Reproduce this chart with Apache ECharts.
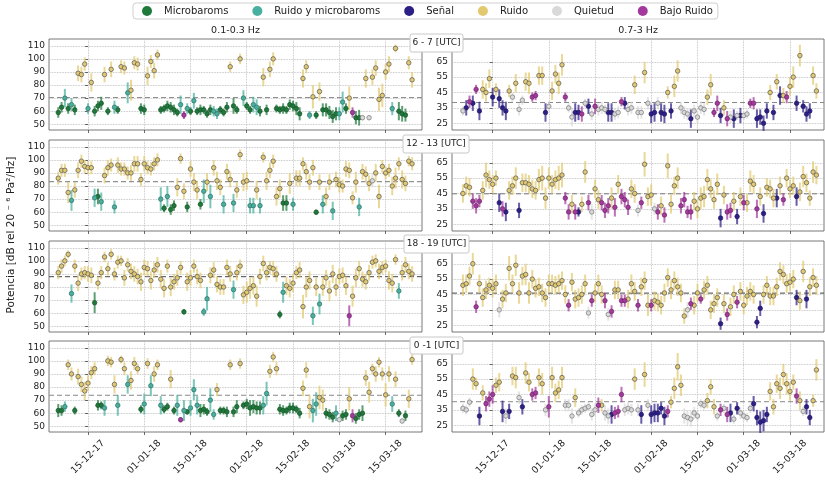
<!DOCTYPE html>
<html><head><meta charset="utf-8">
<script src="https://cdn.jsdelivr.net/npm/echarts@6/dist/echarts.min.js"></script>
<style>html,body{margin:0;padding:0;background:#fff}#c{width:825px;height:481px}</style>
</head><body><div id="c"></div>
<script>
// ---------------- DATA ----------------
// x in days relative to 15-12-2017; each panel has one estimate per day starting at day -9
const startDay = -9;
const tickDays = [0, 17, 31, 48, 62, 76, 90];
const tickLabels = ['15-12-17', '01-01-18', '15-01-18', '01-02-18', '15-02-18', '01-03-18', '15-03-18'];
const leftTicks = [50, 60, 70, 80, 90, 100, 110];
const rightTicks = [25, 35, 45, 55, 65];
const rowLabels = ['6 - 7 [UTC]', '12 - 13 [UTC]', '18 - 19 [UTC]', '0 -1 [UTC]'];
const bandTitles = ['0.1-0.3 Hz', '0.7-3 Hz'];
// category codes: g Microbaroms, t Ruido y microbaroms, s Señal, y Ruido, q Quietud, b Bajo Ruido
const catCodes = ['g', 't', 's', 'y', 'q', 'b'];
const catNames = ['Microbaroms', 'Ruido y microbaroms', 'Señal', 'Ruido', 'Quietud', 'Bajo Ruido'];

// ---- 0.1-0.3 Hz ----
const L1_cats = ["ggtgtgyyyt","ygggygytgy","ytyyyggyyy","yggggggtbt","gtgggggttg","ggyggytggt","tgygyygggg","ggggyytygy","gggggttgyb","ggqyqyyyyy","ytygggyy"].join('');
const L1_vals = [59,63,70,62,65,61,89,88,96,62, 82,60,64,66,88,60,92,63,61,94, 93,74,76,97,96,62,61,87,98,91,
 103,61,62,64,63,61,59,65,57,62, 60,68,60,61,61,58,61,60,58,61, 59,63,94,64,61,100,70,64,61,65,
 63,60,86,61,92,100,62,61,62,61, 65,64,62,58,85,94,57,71,57,75, 61,61,59,56,58,58,67,62,70,59,
 55,55,55,85,55,86,93,69,72,90, 96,62,108,60,58,57,97,84];
const L1_errs = ["4474546654","7445636535","5885544756","4334443734","3634334443","3446346336","6474653343","4455753937","5555558494","5627266996","65376556"].join('');
const L1_mean = 70.4;

const L2_cats = ["yyyytyyyyy","ytgtyyytyy","yyyyyyyyyy","ytgtggyyyg","yyygtytyyy","tyytyyyytt","ytyyyyyygg","ytyyyyyygy","tyytyyyyyy","ytyyyqyyyy","yyyyyyyy"].join('');
const L2_vals = [86,92,92,75,69,77,92,99,95,94, 94,71,72,68,88,94,96,64,96,93, 93,90,90,97,97,85,97,94,93,97,
 100,70,63,72,62,65,79,101,76,64, 93,83,77,66,76,83,72,94,84,79, 66,91,85,67,77,104,83,84,65,65,
 77,65,102,84,92,99,72,78,67,67, 82,66,86,86,97,91,83,94,60,83, 66,72,83,61,85,81,80,93,92,71,
 83,64,91,89,82,84,90,72,95,90, 92,80,86,97,85,82,99,97];
const L2_errs = ["5558866555","5767665565","5566656555","5938447464","6774979676","7667647766","7647657766","8566566626","7767665665","8766657955","57857645"].join('');
const L2_mean = 83.3;

const L3_cats = ["yyyytyyyyy","ygyyyyyyyy","yyyyyyyyyy","yyyyyyyygy","yyyyttyyyy","yyytyyyyyy","yyyyyyygty","yyyyyyytyt","yyyyyyyyby","yyyyyyyyyy","yyytyyyy"].join('');
const L3_vals = [91,96,100,105,75,96,83,90,91,90, 89,68,83,91,103,94,105,90,99,100, 87,97,92,90,88,84,95,94,85,93,
 97,86,79,96,80,84,87,95,61,84, 87,96,88,85,61,71,89,93,82,80, 80,95,90,78,91,96,74,76,79,81,
 73,88,98,91,95,94,90,59,76,81, 79,83,91,93,65,80,85,58,80,67, 80,87,77,90,80,88,89,81,58,73,
 87,94,86,84,91,99,100,92,95,96, 85,83,101,77,91,97,92,90];
const L3_errs = ["5543756556","6855454554","6566676676","6775766527","6566396666","6667657887","8666566387","7756987778","7687766788","7666655655","77466666"].join('');
const L3_mean = 87.9;

const L4_cats = ["ggtyygyyyy","yyggtyyyty","ytyyygtyty","ytggygtbtg","tttgggttyg","ggyggygggg","ggttyyyggg","ggggyyytty","ygggtqggyb","gggyyyyyyy","ytygqgyy"].join('');
const L4_vals = [62,62,65,97,90,62,88,82,77,83, 91,94,66,66,64,100,99,82,66,101, 94,82,85,98,94,63,67,98,81,90,
 97,66,63,65,86,62,66,55,62,61, 64,78,66,62,63,61,70,59,78,62, 62,61,97,61,65,98,66,67,64,65,
 64,64,66,75,92,103,94,63,62,62, 64,64,63,60,79,93,65,62,67,72, 70,60,59,57,60,55,58,59,71,58,
 56,59,60,87,76,94,90,99,90,74, 90,67,86,60,54,58,71,101];
const L4_errs = ["5444536676","5543644783","5775438486","4733738282","6875439453","3444543465","5579545443","4434669999","8444624495","4466846459","66632474"].join('');
const L4_mean = 73.7;

// ---- 0.7-3 Hz ----
const R1_cats = ["qsbsbsyyys","ysssyqyqqy","ybbyysqyyy","ybqqssbqsq","bqqqssqqbs","qqyqqyqssq","ssysyyqqqs","qqqqyybbsy","bqsqsqqbbs","sssysysyby","ysysssyy"].join('');
const R1_vals = [33,35,39,38,47,33,47,45,54,42, 47,41,35,33,46,42,51,34,40,52, 51,42,43,56,56,32,36,46,57,51,
 63,42,35,29,32,32,31,38,36,31, 36,34,35,34,32,32,31,32,39,38, 34,35,50,32,32,58,38,31,32,38,
 32,31,45,33,49,59,35,32,31,28, 33,29,35,34,42,50,32,38,30,35, 28,29,28,30,30,30,31,38,38,28,
 29,25,33,45,32,52,43,43,42,49, 55,38,69,36,31,33,56,46];
const R1_errs = ["3545366666","4656436436","7336663667","7336655354","5443664434","4464474664","6645774446","4444573555","5463533346","5555556546","75745565"].join('');
const R1_mean = 38.5;

const R2_cats = ["yyybbbyyyy","ysbsyyysyy","yyyyyyyyyy","ybbybsyybq","yybbbybybb","byyqbyyyqb","ybyyyybbbb","yyyyyyyysy","bbysybyyyb","ysyyysybyy","ysyyyyyy"].join('');
const R2_vals = [45,50,49,40,37,40,47,57,54,51, 55,39,35,33,47,50,55,34,52,52, 51,48,47,54,55,42,55,51,54,55,
 57,42,33,38,33,33,38,59,39,33, 48,41,39,34,37,42,36,51,43,41, 36,48,45,34,39,64,43,44,35,33,
 37,31,63,38,50,55,37,41,33,33, 40,35,42,43,54,48,41,51,29,44, 33,34,40,30,43,39,39,53,51,35,
 43,32,49,48,42,42,50,41,55,48, 50,43,46,56,52,42,59,57];
const R2_errs = ["6665546866","5656667566","6667877668","8456535755","6655576655","5664486745","6586675545","6677766766","5565656766","6666666466","66676576"].join('');
const R2_mean = 44.8;

const R3_cats = ["yyyybyyyyy","yqyyyyyyyy","yyyyyyyyyy","yybyyyyyqb","yyybqbyybb","yyybyyybyy","yyyyyyyyqb","yybyyyyysy","byybyyyyys","syyyyyyyyy","ysyysyyy"].join('');
const R3_vals = [51,52,57,65,37,52,43,48,51,49, 52,35,42,46,62,52,64,46,57,58, 46,55,49,50,46,43,52,52,51,52,
 54,45,38,53,42,43,45,52,33,41, 46,52,45,41,32,34,48,48,41,41, 42,52,47,38,50,54,38,38,41,40,
 38,46,56,48,54,50,46,31,35,39, 38,46,42,48,51,35,39,43,26,39, 32,37,45,40,47,38,44,47,45,27,
 36,45,51,44,44,50,60,58,52,53, 55,43,41,60,42,50,56,51];
const R3_errs = ["7667466656","6566867767","7666666666","6646666644","6665446644","6664667466","6666666554","6636666646","4664666664","5666666666","65676666"].join('');
const R3_mean = 45.9;

const R4_cats = ["qqqyysybbb","yysqsyyqsy","ybbyyqbyyy","yqqqyqqqqq","qbyqqsbbbq","qqyqsyqsss","ssbyyyyqqq","qqqqyyyqbq","bsqsqqqqss","sssyyyyyyy","ybyqssyy"].join('');
const R4_vals = [36,35,40,55,52,31,46,39,42,45, 51,53,34,31,34,57,56,43,37,59, 53,45,46,56,52,35,37,56,46,48,
 56,38,38,31,43,33,35,36,37,32, 35,38,38,33,31,32,33,34,45,35, 36,35,55,35,32,58,38,32,33,33,
 36,31,34,40,49,63,51,31,30,29, 33,31,39,38,41,50,37,31,35,36, 32,33,29,36,33,31,30,36,39,30,
 27,28,32,47,37,52,49,58,52,47, 53,44,41,34,37,30,41,61];
const R4_errs = ["3337465556","5675567457","6446747766","7445633334","4545564454","4474684666","4644797555","4333555343","5634433355","7756567776","55635547"].join('');
const R4_mean = 40.3;

// ---------------- STYLE / LAYOUT ----------------
const FONT = 'DejaVu Sans';
const catColors = ['#1d7a3b', '#47b09e', '#2c1f86', '#e2c96f', '#d9d9d9', '#a3399c'];
const edgeColors = ['#1a4f2a', '#2f6f66', '#1e1660', '#555', '#777', '#6b2566'];
const rowTops = [39, 140, 241, 341];
const rowH = 91;
const sides = {
  L: {left: 49, width: 373, xmin: -11.8, xmax: 101.0, ymin: 45.6, ymax: 115.2, ticks: leftTicks},
  R: {left: 452, width: 372, xmin: -12.3, xmax: 100.3, ymin: 20.6, ymax: 79.8, ticks: rightTicks}
};
const meanColors = ['#888', '#777', '#444', '#888'];

const panels = [
  {side:'L', row:0, cats:L1_cats, vals:L1_vals, errs:L1_errs, mean:L1_mean},
  {side:'R', row:0, cats:R1_cats, vals:R1_vals, errs:R1_errs, mean:R1_mean},
  {side:'L', row:1, cats:L2_cats, vals:L2_vals, errs:L2_errs, mean:L2_mean},
  {side:'R', row:1, cats:R2_cats, vals:R2_vals, errs:R2_errs, mean:R2_mean},
  {side:'L', row:2, cats:L3_cats, vals:L3_vals, errs:L3_errs, mean:L3_mean},
  {side:'R', row:2, cats:R3_cats, vals:R3_vals, errs:R3_errs, mean:R3_mean},
  {side:'L', row:3, cats:L4_cats, vals:L4_vals, errs:L4_errs, mean:L4_mean},
  {side:'R', row:3, cats:R4_cats, vals:R4_vals, errs:R4_errs, mean:R4_mean}
];

const grids = [], xAxes = [], yAxes = [], series = [];
panels.forEach((p, i) => {
  const s = sides[p.side];
  grids.push({left: s.left, top: rowTops[p.row], width: s.width, height: rowH,
    show: true, borderColor: '#555', borderWidth: 0.8, backgroundColor: '#fff', outerBoundsMode: 'none'});
  xAxes.push({type: 'value', gridIndex: i, min: s.xmin, max: s.xmax,
    axisLine: {show: false},
    axisTick: {show: true, customValues: tickDays, length: 3, lineStyle: {color: '#444', width: 0.8}},
    axisLabel: {show: p.row === 3, customValues: tickDays,
      formatter: v => { const k = tickDays.indexOf(Math.round(v)); return k >= 0 ? tickLabels[k] : ''; },
      rotate: 45, align: 'center', verticalAlign: 'middle', margin: 25,
      fontFamily: FONT, fontSize: 9.5, color: '#222'},
    splitLine: {show: true, lineStyle: {type: 'dotted', color: '#b5b5b5', width: 0.8}}});
  yAxes.push({type: 'value', gridIndex: i, min: s.ymin, max: s.ymax,
    axisLine: {show: false},
    axisTick: {show: true, customValues: s.ticks, length: 3, lineStyle: {color: '#444', width: 0.8}},
    axisLabel: {customValues: s.ticks, fontFamily: FONT, fontSize: 9, color: '#222', margin: 4},
    splitLine: {show: true, lineStyle: {type: 'dotted', color: '#b5b5b5', width: 0.8}}});

  const n = Math.min(p.cats.length, p.vals.length, p.errs.length);
  const bars = [];
  const byCat = catCodes.map(() => []);
  for (let k = 0; k < n; k++) {
    const c = catCodes.indexOf(p.cats[k]);
    const day = startDay + k;
    bars.push([day, p.vals[k], +p.errs[k], c]);
    byCat[c].push([day, p.vals[k]]);
  }
  // mean dashed line
  series.push({type: 'line', xAxisIndex: i, yAxisIndex: i, silent: true, symbol: 'none', z: 1,
    data: [[s.xmin, p.mean], [s.xmax, p.mean]],
    lineStyle: {type: [5, 3], color: meanColors[p.row], width: 1}});
  // error bars
  series.push({type: 'custom', xAxisIndex: i, yAxisIndex: i, silent: true, z: 2,
    data: bars, encode: {x: 0, y: 1},
    renderItem: (params, api) => {
      const x = api.value(0), v = api.value(1), e = api.value(2), c = api.value(3);
      const a = api.coord([x, v - e]), b = api.coord([x, v + e]);
      return {type: 'line', shape: {x1: a[0], y1: a[1], x2: b[0], y2: b[1]},
        style: {stroke: catColors[c], lineWidth: 2, opacity: 0.72}};
    }});
  // markers
  catCodes.forEach((c, ci) => {
    series.push({type: 'scatter', name: catNames[ci], xAxisIndex: i, yAxisIndex: i, z: 3,
      symbol: 'circle', symbolSize: 4.5, data: byCat[ci],
      itemStyle: {color: catColors[ci], borderColor: edgeColors[ci], borderWidth: 0.7, opacity: 1}});
  });
});

const graphics = [];
// column titles
graphics.push({type: 'text', x: 235.5, y: 31, style: {text: bandTitles[0], font: '9.5px "DejaVu Sans"', fill: '#222', textAlign: 'center', textVerticalAlign: 'middle'}});
graphics.push({type: 'text', x: 638, y: 31, style: {text: bandTitles[1], font: '9.5px "DejaVu Sans"', fill: '#222', textAlign: 'center', textVerticalAlign: 'middle'}});
// hour boxes
const boxes = [[410, 34, 53, 18], [403, 135, 66, 18], [404, 235, 65, 18], [410, 337, 53, 17]];
boxes.forEach((b, r) => {
  graphics.push({type: 'rect', z: 50, shape: {x: b[0], y: b[1], width: b[2], height: b[3], r: 2},
    style: {fill: '#fff', stroke: '#c8c8c8', lineWidth: 1}});
  graphics.push({type: 'text', z: 51, x: b[0] + b[2] / 2, y: b[1] + b[3] / 2,
    style: {text: rowLabels[r], font: '9px "DejaVu Sans"', fill: '#222', textAlign: 'center', textVerticalAlign: 'middle'}});
});
// y axis name
graphics.push({type: 'text', x: 11, y: 235, rotation: Math.PI / 2,
  style: {text: 'Potencia [dB rel 20 ⁻ ⁶ Pa²/Hz]', font: '10.5px "DejaVu Sans"', fill: '#222', textAlign: 'center', textVerticalAlign: 'middle'}});

const chart = echarts.init(document.getElementById('c'), null, {renderer: 'canvas'});
chart.setOption({
  animation: false,
  backgroundColor: '#fff',
  textStyle: {fontFamily: FONT},
  legend: {data: catNames, left: 133, top: 3, icon: 'circle', itemWidth: 10, itemHeight: 10, itemGap: 24,
    padding: [3, 5, 3, 9], borderColor: '#cfcfcf', borderWidth: 1, borderRadius: 3,
    itemStyle: {borderWidth: 0},
    textStyle: {fontFamily: FONT, fontSize: 10, color: '#222', padding: [0, 0, 0, 7]}},
  grid: grids, xAxis: xAxes, yAxis: yAxes, series: series, graphic: graphics
});
</script></body></html>
